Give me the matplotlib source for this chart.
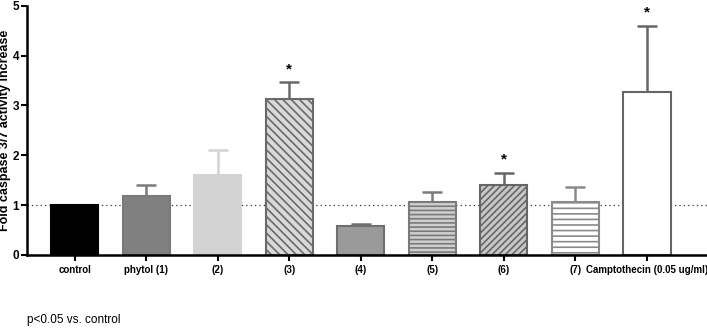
import numpy as np
import matplotlib.pyplot as plt

labels = ['control', 'phytol (1)', '(2)', '(3)', '(4)', '(5)', '(6)', '(7)',
          'Camptothecin (0.05 ug/ml)']
means = [1.0, 1.18, 1.60, 3.13, 0.59, 1.07, 1.40, 1.07, 3.27]
errors = [0.0, 0.22, 0.50, 0.34, 0.03, 0.20, 0.25, 0.29, 1.33]
significant = [False, False, False, True, False, False, True, False, True]

faces = ['#000000', '#808080', '#d3d3d3', '#d9d9d9', '#9a9a9a', '#cfcfcf',
         '#c8c8c8', '#ffffff', '#ffffff']
edges = ['#000000', '#7a7a7a', '#d3d3d3', '#6a6a6a', '#6e6e6e', '#7a7a7a',
         '#666666', '#8a8a8a', '#666666']
hatches = [None, None, None, '\\\\\\\\', None, '----', '/////', '---', None]

plt.rcParams['font.family'] = ['Liberation Sans', 'DejaVu Sans']
plt.rcParams['hatch.linewidth'] = 1.2

fig = plt.figure(figsize=(7.07, 3.28), dpi=100)
ax = fig.add_axes([0.038, 0.2226, 0.962, 0.7597])

x = np.arange(len(labels))
for i in range(len(labels)):
    plt.rcParams['hatch.color'] = edges[i]
    ax.bar(x[i], means[i], width=0.66, color=faces[i], edgecolor=edges[i],
           linewidth=1.5, hatch=hatches[i], zorder=2)
    if errors[i] > 0:
        ax.errorbar(x[i], means[i], yerr=[[0], [errors[i]]], fmt='none',
                    ecolor=edges[i], elinewidth=1.8, capsize=7, capthick=1.8,
                    zorder=1)
    if significant[i]:
        ax.text(x[i], means[i] + errors[i] + 0.12, '*', ha='center', va='bottom',
                fontsize=11, fontweight='bold', clip_on=False)

ax.axhline(1.0, color='#333333', linestyle=(0, (1, 2.5)), linewidth=0.9, zorder=0)

ax.set_xlim(-0.67, 8.84)
ax.set_ylim(0, 5)
ax.set_yticks(range(6))
ax.set_xticks(x)
ax.set_xticklabels(labels, fontsize=7, fontweight='bold')
ax.tick_params(axis='y', labelsize=8.5, width=1.5, length=4, pad=1.5)
for lab in ax.get_yticklabels():
    lab.set_fontweight('bold')
ax.tick_params(axis='x', width=1.5, length=4, pad=3)
ax.set_ylabel('Fold caspase 3/7 activity increase', fontsize=9, fontweight='bold')
ax.yaxis.set_label_coords(-0.024, 0.5)
for s in ['top', 'right']:
    ax.spines[s].set_visible(False)
for s in ['left', 'bottom']:
    ax.spines[s].set_linewidth(1.8)

fig.text(0.038, 0.024, 'p<0.05 vs. control', fontsize=8.5, ha='left', va='center')

fig.savefig('out.png', dpi=100)
